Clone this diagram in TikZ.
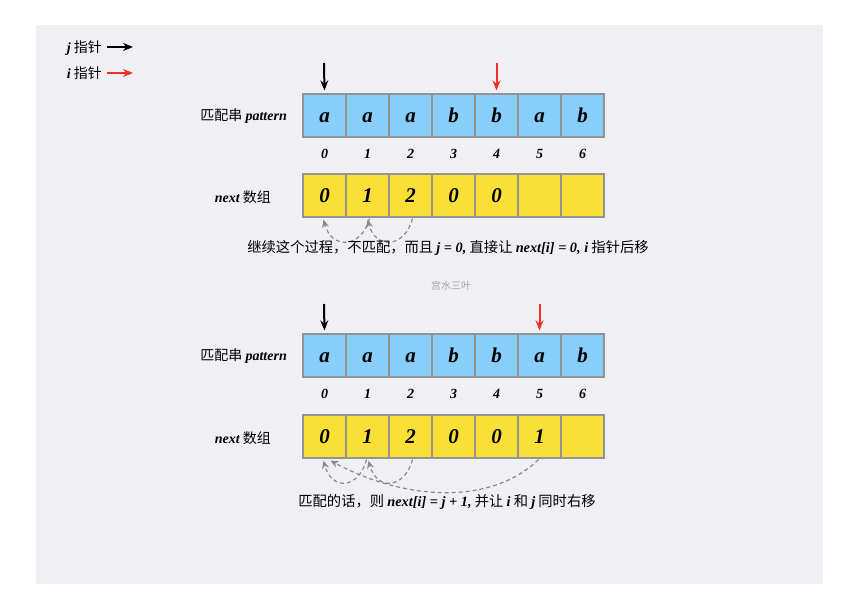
\documentclass[tikz,border=0pt]{standalone}
\usepackage{fontspec}
\setmainfont{Noto Sans CJK SC}
\newfontfamily\latf{Liberation Serif}
\usetikzlibrary{arrows.meta,calc}
\definecolor{bgc}{HTML}{F0EFF4}
\definecolor{bluec}{HTML}{87CEF8}
\definecolor{yellc}{HTML}{FAE036}
\definecolor{edgec}{HTML}{939393}
\definecolor{redc}{HTML}{EE3124}
\definecolor{curvec}{HTML}{8A8A8A}
\newcommand{\li}[1]{{\latf\bfseries\itshape #1}}
\tikzset{
  cellb/.style={draw=edgec,line width=1.2pt,fill=bluec,minimum width=43pt,minimum height=43pt,inner sep=0pt,text height=14pt,text depth=0pt,font=\latf\bfseries\itshape\fontsize{21}{21}\selectfont},
  celly/.style={cellb,fill=yellc},
  idx/.style={inner sep=0pt,text height=9pt,text depth=0pt,font=\latf\bfseries\itshape\fontsize{14}{14}\selectfont},
  lab/.style={inner sep=0pt,anchor=east,font=\fontsize{14}{15}\selectfont},
  captxt/.style={inner sep=0pt,font=\fontsize{14.3}{15}\selectfont},
  ptr/.style={-{Stealth[length=10pt,width=8pt]},line width=2pt},
  curve/.style={-{Stealth[length=8pt,width=7pt]},curvec,dashed,dash pattern=on 4pt off 3pt,line width=1.2pt}
}
\begin{document}
\begin{tikzpicture}[x=1pt,y=-1pt]
\useasboundingbox (0,0) rectangle (844,597);
\fill[white] (0,0) rectangle (844,597);
\fill[bgc] (36,25) rectangle (823,584);
% legend
\node[lab] (lj) at (102,48) {\li{j} 指针};
\coordinate (lja) at (107,47);
\coordinate (ljb) at (133,47);
\draw[ptr] (lja) -- (ljb);
\node[lab] (lii) at (102,73) {\li{i} 指针};
\coordinate (lia) at (107,73);
\coordinate (lib) at (133,73);
\draw[ptr,redc] (lia) -- (lib);
% panel 1
\foreach \c [count=\k from 0] in {a,a,a,b,b,a,b}{
  \node[cellb] (pa\k) at (324.5+43*\k,115.5) {\c};
  \node[idx] (ia\k) at (324.5+43*\k,153.5) {\k};
}
\foreach \c [count=\k from 0] in {0,1,2,0,0,{},{}}{
  \node[celly] (na\k) at (324.5+43*\k,195.5) {\c};
}
\node[lab] (lpa) at (287,116) {匹配串 \li{pattern}};
\node[lab] (lna) at (271,197) {\li{next} 数组};
\coordinate (ja) at (324,63);
\draw[ptr,shorten >=3pt] (ja) -- (pa0.north);
\coordinate (iaa) at (496.5,63);
\draw[ptr,redc,shorten >=3pt] (iaa) -- (pa4.north);
\draw[curve] ($(na1.south)+(2,1)$) .. controls +(-8,30) and +(8,30) .. ($(na0.south)+(-1,2)$);
\draw[curve] ($(na2.south)+(2,1)$) .. controls +(-8,30) and +(8,30) .. ($(na1.south)+(0,2)$);
\node[captxt] (ca) at (448,248) {继续这个过程，不匹配，而且 \li{j = 0,} 直接让 \li{next[i] = 0, i} 指针后移};
\node[inner sep=0pt,text=gray!70,font=\fontsize{10}{10}\selectfont] (wm) at (451,286) {宫水三叶};
% panel 2
\foreach \c [count=\k from 0] in {a,a,a,b,b,a,b}{
  \node[cellb] (pb\k) at (324.5+43*\k,355.5) {\c};
  \node[idx] (ib\k) at (324.5+43*\k,393.5) {\k};
}
\foreach \c [count=\k from 0] in {0,1,2,0,0,1,{}}{
  \node[celly] (nb\k) at (324.5+43*\k,436.5) {\c};
}
\node[lab] (lpb) at (287,356) {匹配串 \li{pattern}};
\node[lab] (lnb) at (271,438) {\li{next} 数组};
\coordinate (jb) at (324,304);
\draw[ptr,shorten >=3pt] (jb) -- (pb0.north);
\coordinate (ib) at (539.5,304);
\draw[ptr,redc,shorten >=3pt] (ib) -- (pb5.north);
\draw[curve] ($(nb1.south)+(-1,1)$) .. controls +(-8,30) and +(8,30) .. ($(nb0.south)+(-1,2)$);
\draw[curve] ($(nb2.south)+(2,1)$) .. controls +(-8,30) and +(8,30) .. ($(nb1.south)+(1,2)$);
\draw[curve] ($(nb5.south)+(-1,1)$) .. controls +(-50,48) and +(70,38) .. ($(nb0.south)+(6,2)$);
\node[captxt] (cb) at (447,502) {匹配的话，则 \li{next[i] = j + 1,} 并让 \li{i} 和 \li{j} 同时右移};
\end{tikzpicture}
\end{document}
